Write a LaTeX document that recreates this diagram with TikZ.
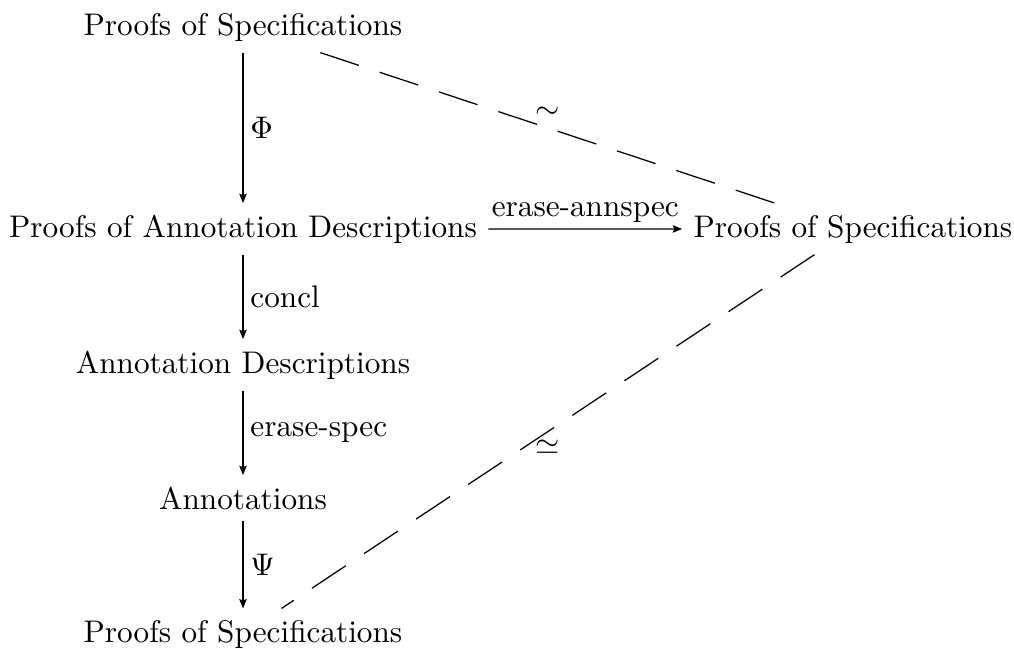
\documentclass[tikz,border=0pt]{standalone}
\usetikzlibrary{arrows.meta}
\begin{document}
\begin{tikzpicture}[x=0.32pt,y=-0.32pt,
  lbl/.style={inner sep=3.5pt, anchor=base},
  arr/.style={-{Stealth[length=3pt,width=2.4pt,inset=0.5pt]}, line width=0.4pt},
  dsh/.style={dash pattern=on 13pt off 7pt, line width=0.4pt},
  alab/.style={right, inner sep=2.2pt}]
\useasboundingbox (0,0) rectangle (1014,649);
\node[lbl] (p1) at (243,35) {Proofs of Specifications};
\node[lbl] (pad) at (243,237) {Proofs of Annotation Descriptions};
\node[lbl] (ps2) at (853,237) {Proofs of Specifications};
\node[lbl] (ad) at (243,373) {Annotation Descriptions};
\node[lbl] (an) at (243,509) {Annotations};
\node[lbl] (p3) at (243,642) {Proofs of Specifications};
\draw[arr] (p1) -- node[alab]{$\Phi$} (pad);
\draw[arr] (pad) -- node[alab]{concl} (ad);
\draw[arr] (ad) -- node[alab]{erase-spec} (an);
\draw[arr] (an) -- node[alab]{$\Psi$} (p3);
\draw[arr] (pad) -- node[above, inner sep=2pt]{erase-annspec} (ps2);
\draw[dsh] (p1) -- node[midway, yshift=4.8pt]{$\sim$} (ps2);
\draw[dsh] (ps2) -- node[midway, yshift=-5pt]{$\simeq$} (p3);
\end{tikzpicture}
\end{document}
